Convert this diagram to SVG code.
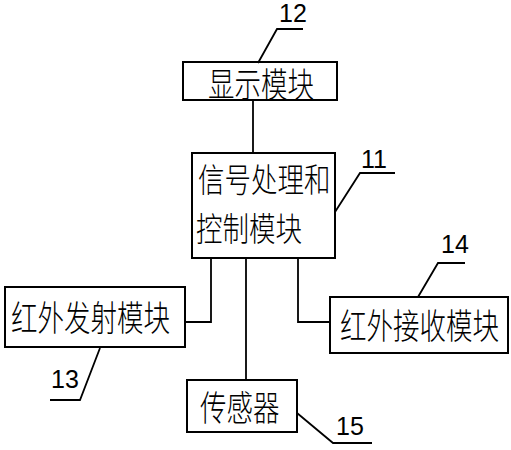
<svg xmlns="http://www.w3.org/2000/svg" width="511" height="450" viewBox="0 0 511 450">
<style>
.box{fill:#fff;stroke:#000;stroke-width:2}
.ln{fill:none;stroke:#000;stroke-width:1.8}
.cn{font-family:"Noto Sans CJK SC","Noto Sans CJK JP",sans-serif;font-size:26.5px;font-weight:300;fill:#000;dominant-baseline:central}
.num{font-family:"Liberation Sans",Arial,sans-serif;font-size:25px;fill:#000}
</style>
<rect width="511" height="450" fill="#fff"/>
<g id="connectors">
<path class="ln" d="M253 100V153"/>
<path class="ln" d="M211 258V322H185"/>
<path class="ln" d="M246 258V380"/>
<path class="ln" d="M298 258V322H330"/>
</g>
<g id="n12">
<rect class="box" x="183" y="62" width="154" height="38"/>
<text class="cn" transform="translate(208,82) scale(1,1.3)">显示模块</text>
<path class="ln" d="M258 63L277 29H303"/>
<text class="num" x="279" y="22">12</text>
</g>
<g id="n11">
<rect class="box" x="192" y="153" width="143" height="105"/>
<text class="cn" transform="translate(198,178) scale(1,1.25)">信号处理和</text>
<text class="cn" transform="translate(196,227) scale(1,1.25)">控制模块</text>
<path class="ln" d="M335 212L360 173H395"/>
<text class="num" x="361" y="168">11</text>
</g>
<g id="n13">
<rect class="box" x="5" y="287" width="180" height="60"/>
<text class="cn" transform="translate(11,315) scale(1,1.35)">红外发射模块</text>
<path class="ln" d="M100 348L80 400H50"/>
<text class="num" x="51" y="388">13</text>
</g>
<g id="n14">
<rect class="box" x="330" y="297" width="178" height="56"/>
<text class="cn" transform="translate(340,323) scale(1,1.35)">红外接收模块</text>
<path class="ln" d="M418 297L438 263H465"/>
<text class="num" x="441" y="253">14</text>
</g>
<g id="n15">
<rect class="box" x="187" y="380" width="110" height="52"/>
<text class="cn" transform="translate(200,405) scale(1,1.35)">传感器</text>
<path class="ln" d="M297 413L333 443H372"/>
<text class="num" x="336" y="435">15</text>
</g>
</svg>
